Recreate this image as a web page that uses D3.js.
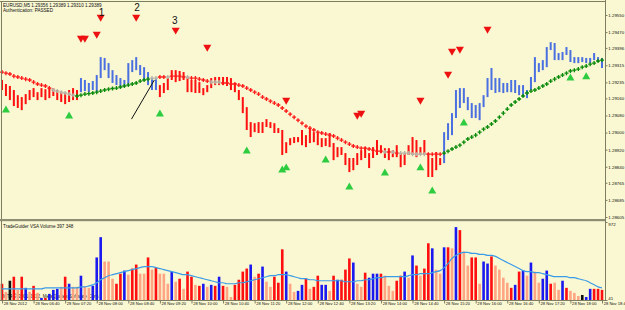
<!DOCTYPE html>
<html><head><meta charset="utf-8">
<script src="https://cdn.jsdelivr.net/npm/d3@7"></script>
<style>
body{margin:0;background:#FAF8D2;}
svg{display:block;}
text{font-family:"Liberation Sans",Arial,sans-serif;}
</style>
</head><body>
<svg id="c" width="625" height="310"></svg>
<script>
// ---------------- DATA ----------------
const symbolHeader = "EURUSD,M5  1.29356 1.29389 1.29310 1.29389";
const authText = "Authentication: PASSED";
const volumeTitle = "TradeGuider VSA Volume 397 348";
const copyrightText = "MT4 \u00A9 2001-2012, MetaQuotes Software Corp.";

const high = [129246,129227,129218,129199,129175,129166,129180,129199,129208,129189,
129208,129203,129213,129208,129199,129189,129185,129199,129208,129199,
129255,129246,129232,129241,129269,129353,129349,129325,129292,129269,
129255,129246,129325,129339,129353,129316,129306,129283,129255,129255,
129222,129232,129255,129292,129292,129288,129283,129260,129246,129246,
129236,129208,129222,129255,129260,129260,129260,129260,129255,129232,
129199,129166,129119,129049,129044,129049,129049,129063,129049,129044,
129021,129012,128955,128974,128979,128979,129012,128988,129021,129002,
128998,128974,128974,128998,128951,128932,128932,128904,128881,128881,
128904,128918,128932,128904,128932,128965,128941,128927,128927,128918,
128941,128904,128904,128941,128979,128965,128932,128965,128904,128881,
128909,128881,129002,129044,129091,129199,129208,129208,129166,129138,
129129,129138,129175,129255,129302,129255,129255,129232,129232,129246,
129246,129222,129222,129199,129260,129353,129325,129339,129400,129423,
129419,129372,129377,129400,129386,129353,129353,129353,129349,129349,
129372,129353,129349];

const low = [129199,129171,129152,129124,129115,129105,129133,129152,129166,129152,
129166,129152,129161,129171,129152,129143,129133,129143,129152,129152,
129189,129194,129189,129199,129189,129255,129292,129255,129232,129222,
129208,129213,129222,129283,129292,129269,129246,129222,129199,129199,
129166,129185,129199,129246,129236,129241,129246,129189,129189,129185,
129185,129175,129189,129208,129222,129222,129222,129218,129199,129189,
129152,129091,129012,128979,129002,128998,128998,129026,129021,128998,
128998,128895,128904,128941,128951,128955,128941,128932,128951,128955,
128941,128932,128937,128932,128871,128885,128895,128848,128815,128824,
128848,128871,128881,128834,128881,128895,128904,128881,128871,128885,
128885,128838,128848,128895,128895,128885,128895,128895,128792,128792,
128824,128848,128857,128965,128988,129068,129115,129138,129105,129068,
129068,129058,129119,129166,129199,129185,129189,129185,129189,129189,
129185,129175,129166,129161,129199,129236,129283,129292,129306,129386,
129339,129339,129339,129363,129330,129325,129325,129330,129325,129325,
129339,129330,129302];

// trend of each bar segment: d = down (red), u = up (blue)
const barTrendRuns = [["d",20],["u",20],["d",72],["u",41]];

// trailing stop dots
const stopLevel = [129283,129278,129274,129264,129260,129255,129250,129246,129236,129227,
129222,129218,129208,129199,129194,129189,129185,129180,129175,129171,
129175,129180,129182,129185,129189,129194,129199,129203,129206,129208,
129213,129218,129222,129227,129232,129241,129246,129250,129255,129255,
129260,129260,129260,129264,129264,129264,129260,129260,129255,129255,
129250,129246,129241,129236,129236,129236,129232,129232,129227,129227,
129222,129218,129208,129199,129189,129180,129166,129157,129147,129138,
129129,129115,129101,129086,129072,129058,129044,129030,129021,129012,
129002,128998,128993,128988,128984,128974,128965,128955,128946,128937,
128932,128927,128927,128923,128918,128913,128913,128909,128909,128909,
128904,128904,128904,128904,128899,128899,128899,128899,128899,128899,
128899,128899,128904,128913,128923,128932,128941,128955,128970,128979,
128988,129002,129016,129026,129040,129054,129072,129091,129110,129129,
129143,129157,129171,129185,129194,129199,129208,129218,129227,129241,
129250,129260,129269,129278,129288,129292,129297,129306,129311,129320,
129325,129335,129339];
// r = red (down), g = green (up), n = neutral grey
const stopColorRuns = [["r",13],["n",6],["g",19],["n",2],["r",2],["n",1],["r",4],["n",1],
["r",5],["n",3],["r",41],["n",1],["r",1],["n",1],["r",1],["n",7],["r",4],["g",41]];

const sellSignals = [{bar:20,price:1.29442},{bar:21,price:1.29442},{bar:24,price:1.29461},
{bar:25,price:1.29540},{bar:34,price:1.29540},{bar:44,price:1.29480},{bar:52,price:1.29400},
{bar:72,price:1.29152},{bar:90,price:1.29082},{bar:91,price:1.29091},{bar:106,price:1.29152},
{bar:113,price:1.29274},{bar:114,price:1.29381},{bar:116,price:1.29391},{bar:123,price:1.29484}];
const buySignals = [{bar:1,price:1.29105},{bar:17,price:1.29077},{bar:40,price:1.29086},
{bar:62,price:1.28913},{bar:71,price:1.28824},{bar:72,price:1.28834},{bar:82,price:1.28871},
{bar:88,price:1.28745},{bar:97,price:1.28810},{bar:106,price:1.28834},{bar:109,price:1.28726},
{bar:117,price:1.29044},{bar:144,price:1.29255},{bar:148,price:1.29260}];

const textNotes = [{text:"1",bar:25.3,price:1.29558},{text:"2",bar:34.2,price:1.29583},{text:"3",bar:43.8,price:1.29522}];
const trendLine = {bar1:32.9,price1:1.29063,bar2:38.7,price2:1.29246};

const volume = [235,138,271,319,162,319,186,138,210,126,
65,65,114,162,174,198,319,235,198,198,
331,198,186,210,549,791,500,500,295,235,
355,392,343,416,464,355,355,549,404,428,
355,355,235,380,259,295,174,380,319,222,
210,235,198,222,210,319,210,198,77,222,
283,380,416,464,319,355,440,259,198,319,
247,646,380,235,138,150,222,295,174,198,
331,222,222,150,331,283,283,404,537,488,
235,198,367,307,355,355,355,331,210,150,
271,331,380,307,573,452,331,416,718,658,
404,355,670,670,658,911,875,621,452,549,
549,235,500,476,561,452,404,307,247,186,
222,380,392,331,488,380,247,295,392,235,
247,162,271,186,150,126,89,101,77,174,
174,174,162];
// r red, s salmon, b blue, k black
const volumeColorCodes = ("rskrsrbsrs"+"brbbbsrbss"+"bssbbbsssr"+"rbsrrssrsr"+"sssbsrsrrs"+
"rbsbrbrssr"+"rrrbsrbssr"+"rrbssbbrsr"+"rbbsrbrrrb"+"ssrbbbrsss"+"rrbsbrsrrb"+
"ssbrsbrssr"+"rsbbrssssr"+"brbsbssbbr"+"ssbrssskbb"+"rrr").split("");
const volumeMA = [174,174,174,174,174,174,174,174,174,174,
174,186,186,186,186,186,186,186,186,186,
198,198,210,222,247,283,307,331,343,355,
367,380,392,404,416,428,440,440,440,428,
416,404,392,380,367,355,343,343,331,319,
307,295,283,271,259,247,247,235,235,235,
247,247,259,271,283,295,307,319,331,331,
343,343,343,331,319,307,295,295,283,283,
271,271,271,271,271,271,271,259,259,259,
271,271,283,283,295,307,307,319,319,319,
319,319,319,331,343,343,355,355,355,367,
380,392,428,476,537,573,597,609,609,597,
597,585,585,573,573,561,537,512,488,464,
440,416,392,380,380,367,367,355,343,331,
319,319,319,319,307,307,295,283,271,247,
222,198,186];

const priceTicks = [1.29550,1.29470,1.29396,1.29315,1.29235,1.29160,1.29080,1.29000,1.28920,1.28840,1.28765,1.28685,1.28605];
const volumeTicks = [41,972];

// ---------------- CHART ----------------
const W = 625, H = 310;
const svg = d3.select("#c");
const bg = "#FAF8D2";
svg.append("rect").attr("width", W).attr("height", H).attr("fill", bg);

const expand = runs => runs.flatMap(([c, k]) => Array(k).fill(c));
const barTrend = expand(barTrendRuns);
const stopColor = expand(stopColorRuns);

const n = high.length;
const t0 = new Date(2012, 10, 28, 6, 0);
const times = d3.range(n).map(i => d3.timeMinute.offset(t0, 5 * i));
const barTime = b => d3.timeMinute.offset(t0, 5 * b);

const x = d3.scaleTime().domain([t0, times[n - 1]]).range([2, 602]);
const y = d3.scaleLinear().domain([1.28605, 1.29550]).range([217, 15]);
const yv = d3.scaleLinear().domain([41, 972]).range([300, 222]);
const P = v => v / 100000;

const frame = "#7d7d62";
const FONT = "Liberation Sans, Arial, sans-serif";

// copyright text (behind)
svg.append("text").attr("x", 3).attr("y", 298).attr("font-size", 4.6).attr("fill", "#222")
  .text(copyrightText);

const main = svg.append("g");

// price bars
const colBar = {d: "#ff1010", u: "#4a6fe0"};
main.selectAll("rect.bar").data(times).join("rect").attr("class", "bar")
  .attr("x", d => x(d) - 1).attr("width", 2)
  .attr("y", (d, i) => y(P(high[i])))
  .attr("height", (d, i) => Math.max(1, y(P(low[i])) - y(P(high[i]))))
  .attr("fill", (d, i) => colBar[barTrend[i]]);

// stop dots
const colDot = {r: "#ff1a1a", g: "#0a8a0a", n: "#b4b4a8"};
const cross = d3.symbol(d3.symbolCross).size(9);
main.selectAll("path.dot").data(times).join("path").attr("class", "dot")
  .attr("d", cross)
  .attr("transform", (d, i) => `translate(${x(d)},${y(P(stopLevel[i]))})`)
  .attr("fill", (d, i) => colDot[stopColor[i]]);

// signals
const tri = d3.symbol(d3.symbolTriangle).size(28);
main.selectAll("path.sell").data(sellSignals).join("path")
  .attr("d", tri)
  .attr("transform", d => `translate(${x(barTime(d.bar))},${y(d.price)}) rotate(180)`)
  .attr("fill", "#ee1111");
main.selectAll("path.buy").data(buySignals).join("path")
  .attr("d", tri)
  .attr("transform", d => `translate(${x(barTime(d.bar))},${y(d.price)})`)
  .attr("fill", "#2ecc40");

// annotations
main.selectAll("text.note").data(textNotes).join("text")
  .attr("x", d => x(barTime(d.bar))).attr("y", d => y(d.price))
  .attr("text-anchor", "middle").attr("dominant-baseline", "middle")
  .attr("font-size", 10).attr("fill", "#111").text(d => d.text);
main.append("line")
  .attr("x1", x(barTime(trendLine.bar1))).attr("y1", y(trendLine.price1))
  .attr("x2", x(barTime(trendLine.bar2))).attr("y2", y(trendLine.price2))
  .attr("stroke", "#111").attr("stroke-width", 1);

// header texts
svg.append("text").attr("x", 3).attr("y", 6.5).attr("font-size", 4.6).attr("fill", "#111").text(symbolHeader);
svg.append("text").attr("x", 3).attr("y", 12).attr("font-size", 4.6).attr("fill", "#111").text(authText);

// volume bars
const colVol = {r: "#ff0f0f", s: "#ffa583", b: "#1a1af0", k: "#101010"};
svg.selectAll("rect.vol").data(times).join("rect").attr("class", "vol")
  .attr("x", d => x(d) - 1.3).attr("width", 2.6)
  .attr("y", (d, i) => yv(volume[i]))
  .attr("height", (d, i) => yv(41) - yv(volume[i]))
  .attr("fill", (d, i) => colVol[volumeColorCodes[i]]);

// volume MA
svg.append("path").datum(times)
  .attr("d", d3.line().x(d => x(d)).y((d, i) => yv(volumeMA[i])).curve(d3.curveMonotoneX))
  .attr("fill", "none").attr("stroke", "#3a9be8").attr("stroke-width", 1.2);

svg.append("text").attr("x", 3).attr("y", 228).attr("font-size", 4.6).attr("fill", "#111").text(volumeTitle);

// frame lines
svg.append("line").attr("x1", 0).attr("x2", 606).attr("y1", 1.5).attr("y2", 1.5).attr("stroke", frame);
svg.append("line").attr("x1", 1.5).attr("x2", 1.5).attr("y1", 1).attr("y2", 301).attr("stroke", frame);
svg.append("rect").attr("x", 0).attr("y", 219).attr("width", 606).attr("height", 2.2).attr("fill", "#8d8d74");
svg.append("line").attr("x1", 0).attr("x2", 606).attr("y1", 300.5).attr("y2", 300.5).attr("stroke", frame);
svg.append("line").attr("x1", 605.5).attr("x2", 605.5).attr("y1", 0).attr("y2", 301).attr("stroke", frame);

// price axis
const ya = svg.append("g").attr("transform", "translate(605.5,0)")
  .call(d3.axisRight(y).tickValues(priceTicks).tickSize(2).tickPadding(0.8).tickFormat(d3.format(".5f")));
ya.select(".domain").remove();
ya.selectAll("line").attr("stroke", frame);
ya.selectAll("text").attr("font-size", 4.4).attr("font-family", FONT).attr("fill", "#111");

// volume axis
const va = svg.append("g").attr("transform", "translate(605.5,0)")
  .call(d3.axisRight(yv).tickValues(volumeTicks).tickSize(2).tickPadding(0.8).tickFormat(d3.format("d")));
va.select(".domain").remove();
va.selectAll("line").attr("stroke", frame);
va.selectAll("text").attr("font-size", 4.4).attr("font-family", FONT).attr("fill", "#111")
  .attr("dy", d => d === 972 ? "0.9em" : "-0.2em");

// time axis
const timeTicks = times.filter((d, i) => i % 8 === 0);
const fmtFirst = d3.timeFormat("%-d %b %Y"), fmtOther = d3.timeFormat("%-d %b %H:%M");
const xa = svg.append("g").attr("transform", "translate(0,300.5)")
  .call(d3.axisBottom(x).tickValues(timeTicks).tickSize(3).tickPadding(1)
    .tickFormat((d, i) => i === 0 ? fmtFirst(d) : fmtOther(d)));
xa.select(".domain").remove();
xa.selectAll("line").attr("stroke", frame);
xa.selectAll("text").attr("font-size", 4.1).attr("font-family", FONT)
  .attr("fill", "#111").attr("text-anchor", "start").attr("dx", 1.2).attr("dy", "0.2em");
</script>
</body></html>
